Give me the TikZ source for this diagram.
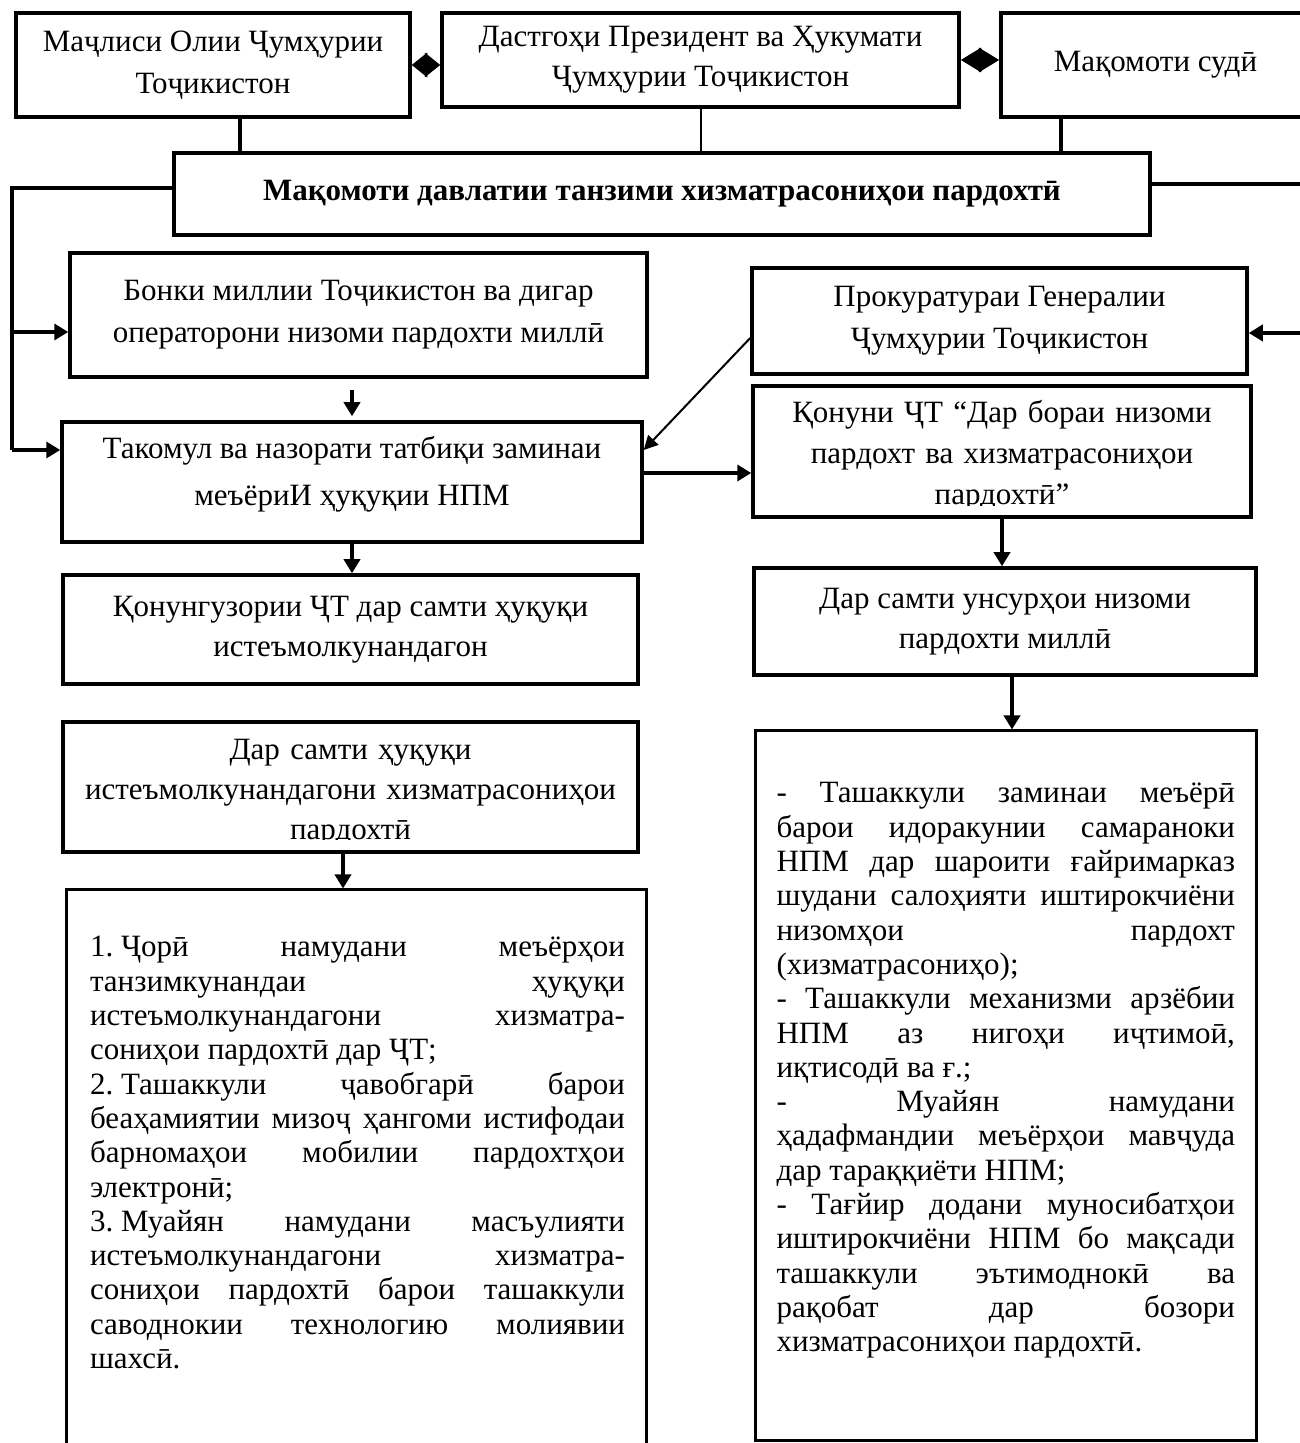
\documentclass[tikz,border=0pt]{standalone}
\usepackage{fontspec}
\setmainfont{Liberation Serif}
\usetikzlibrary{arrows.meta}
\newcommand\listsetup{\frenchspacing\tolerance 10000 \hyphenpenalty 10000 }
\newcommand\fulljustify{\leftskip 0pt\relax\rightskip 0pt\relax\parfillskip 0pt plus 1fil\relax\spaceskip 0pt\relax\xspaceskip 0pt\relax}

\begin{document}
\begin{tikzpicture}[x=1pt,y=1pt,
  box/.style={draw=drawColor,line width=3.5pt,inner sep=0pt,align=center,font=\fontsize{31}{42}\selectfont},
  bigbox/.style={draw=drawColor,line width=3pt,inner sep=0pt},
  boxtext/.style={anchor=base,inner sep=0pt,align=center},
  listtext/.style={anchor=base,inner sep=0pt,font=\fontsize{31}{34.3}\selectfont\listsetup},
  conn/.style={draw=drawColor,line width=3.5pt},
  thinconn/.style={draw=drawColor,line width=2pt},
  arr/.style={conn,-{Triangle[length=14pt,width=16pt]}},
  thinarr/.style={thinconn,-{Triangle[length=14pt,width=14pt]}},
  dia/.style={conn,{Triangle[length=#1,width=24pt]}-{Triangle[length=#1,width=24pt]}}]
\definecolor{fillColor}{RGB}{255,255,255}
\definecolor{drawColor}{RGB}{0,0,0}
\path[use as bounding box,fill=fillColor] (0,0) rectangle (1300,1443);
\begin{scope}
\path[clip] (0,0) rectangle (1300,1443);

% top row
\node[box,minimum width=394pt,minimum height=104pt] (majlis) at (213,1378) {Маҷлиси Олии Ҷумҳурии\\Тоҷикистон};

\node[box,minimum width=517pt,minimum height=94pt,font=\fontsize{31}{40}\selectfont] (dastgoh) at (700.5,1383) {Дастгоҳи Президент ва Ҳукумати\\Ҷумҳурии Тоҷикистон};

\node[box,minimum width=309pt,minimum height=104pt] (sud) at (1155.5,1378) {Мақомоти судӣ};

\draw[dia=15.5pt] (majlis.east) -- (majlis.east -| dastgoh.west);
\draw[dia=20.5pt] (dastgoh.east) -- (dastgoh.east -| sud.west);

% title
\node[box,minimum width=976pt,minimum height=82pt,font=\fontsize{31}{42}\selectfont\bfseries] (maqomot) at (662,1249) {Мақомоти давлатии танзими хизматрасониҳои пардохтӣ};

\coordinate (majlisOut) at ([xshift=27pt]majlis.south);
\coordinate (sudOut) at ([xshift=-94.5pt]sud.south);
\draw[conn] (majlisOut) -- (majlisOut |- maqomot.north);
\draw[thinconn] (dastgoh.south) -- (dastgoh.south |- maqomot.north);
\draw[conn] (sudOut) -- (sudOut |- maqomot.north);

% left column
\node[box,minimum width=577pt,minimum height=124pt] (bonk) at (358.5,1128) {Бонки миллии Тоҷикистон ва дигар\\операторони низоми пардохти миллӣ};

\node[box,minimum width=580pt,minimum height=120pt,font=\fontsize{31}{47}\selectfont,text depth=22pt] (takomul) at (352,961) {Такомул ва назорати татбиқи заминаи\\меъёриИ ҳуқуқии НПМ};

\node[box,minimum width=575pt,minimum height=109pt,font=\fontsize{31}{40}\selectfont] (qonunguzori) at (350.5,813.5) {Қонунгузории ҶТ дар самти ҳуқуқи\\истеъмолкунандагон};

\node[box,minimum width=575pt,minimum height=130pt] (samtiHuquq) at (350.5,656) {};

\node[bigbox,minimum width=580pt,minimum height=613pt] (listLeft) at (356,246.5) {};

% right column
\node[box,minimum width=495pt,minimum height=106pt] (prok) at (999.5,1122) {Прокуратураи Генералии\\Ҷумҳурии Тоҷикистон};

\node[box,minimum width=498pt,minimum height=131pt] (qonun) at (1002,991.5) {};

\node[box,minimum width=502pt,minimum height=107pt,font=\fontsize{31}{40}\selectfont] (samtiUnsur) at (1005,821.5) {Дар самти унсурҳои низоми\\пардохти миллӣ};

\node[bigbox,minimum width=501pt,minimum height=710pt] (listRight) at (1005.5,357) {};

% texts cut by their boxes
\begin{scope}
\path[clip] (qonun.north west) rectangle ([yshift=13pt]qonun.south east);
\node[boxtext,text width=490pt,font=\fontsize{31}{41}\selectfont] (qonunText) at (1002,1020) {Қонуни ҶТ “Дар бораи низоми\\пардохт ва хизматрасониҳои\\пардохтӣ”};
\end{scope}

\begin{scope}
\path[clip] (samtiHuquq.north west) rectangle ([yshift=14pt]samtiHuquq.south east);
\node[boxtext,text width=570pt,font=\fontsize{31}{40}\selectfont] (samtiHuquqText) at (350.5,683) {Дар самти ҳуқуқи\\истеъмолкунандагони хизматрасониҳои\\пардохтӣ};
\end{scope}

% lists
\node[listtext,text width=535pt] (listLeftText) at (357.5,486) {\fulljustify\mbox{1. Ҷорӣ} намудани меъёрҳои\linebreak танзимкунандаи ҳуқуқи\linebreak истеъмолкунандагони хизматра-\linebreak сониҳои пардохтӣ дар ҶТ;\par \mbox{2. Ташаккули} ҷавобгарӣ барои\linebreak беаҳамиятии мизоҷ ҳангоми истифодаи\linebreak барномаҳои мобилии пардохтҳои\linebreak электронӣ;\par \mbox{3. Муайян} намудани масъулияти\linebreak истеъмолкунандагони хизматра-\linebreak сониҳои пардохтӣ барои ташаккули\linebreak саводнокии технологию молиявии\linebreak шахсӣ.\par};

\node[listtext,text width=458.5pt] (listRightText) at (1005.75,640) {\fulljustify- Ташаккули заминаи меъёрӣ\linebreak барои идоракунии самараноки\linebreak НПМ дар шароити ғайримарказ\linebreak шудани салоҳияти иштирокчиёни\linebreak низомҳои пардохт\linebreak (хизматрасониҳо);\par - Ташаккули механизми арзёбии\linebreak НПМ аз нигоҳи иҷтимоӣ,\linebreak иқтисодӣ ва ғ.;\par - Муайян намудани\linebreak ҳадафмандии меъёрҳои мавҷуда\linebreak дар тараққиёти НПМ;\par - Тағйир додани муносибатҳои\linebreak иштирокчиёни НПМ бо мақсади\linebreak ташаккули эътимоднокӣ ва\linebreak рақобат дар бозори\linebreak хизматрасониҳои пардохтӣ.\par};

% left trunk
\coordinate (trunkTop) at (12,1255);
\coordinate (trunkMid) at (12,1111);
\coordinate (trunkBot) at (12,993);
\draw[conn] (maqomot.west |- trunkTop) -- (trunkTop) -- (trunkBot);
\draw[arr] (trunkMid) -- (trunkMid -| bonk.west);
\draw[arr] (trunkBot) -- (trunkBot -| takomul.west);

% right trunk
\coordinate (rightTop) at (1300,1259);
\coordinate (rightMid) at (1300,1110);
\draw[conn] (maqomot.east |- rightTop) -- (rightTop);
\draw[arr] (rightMid) -- (rightMid -| prok.east);

% arrows between boxes
\draw[arr,shorten <=11pt,shorten >=4pt] (takomul.north |- bonk.south) -- (takomul.north);
\draw[arr] (takomul.south) -- (takomul.south |- qonunguzori.north);
\coordinate (samtiHuquqOut) at ([xshift=-7.5pt]samtiHuquq.south);
\draw[arr] (samtiHuquqOut) -- (samtiHuquqOut |- listLeft.north);

\draw[thinarr] ([yshift=-17pt]prok.west) -- ([yshift=32pt]takomul.east);
\coordinate (qonunIn) at ([yshift=9pt]takomul.east);
\draw[arr] (qonunIn) -- (qonunIn -| qonun.west);
\draw[arr] (qonun.south) -- (qonun.south |- samtiUnsur.north);
\coordinate (samtiUnsurOut) at ([xshift=7pt]samtiUnsur.south);
\draw[arr] (samtiUnsurOut) -- (samtiUnsurOut |- listRight.north);
\end{scope}
\end{tikzpicture}
\end{document}
